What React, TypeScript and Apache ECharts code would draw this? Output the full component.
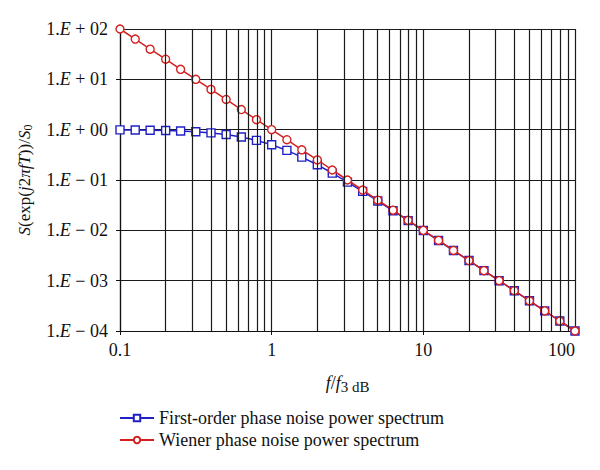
import React, { useEffect, useRef } from "react";
import * as echarts from "echarts";

const freqs = [
  0.1, 0.126, 0.158, 0.2, 0.251, 0.316, 0.398, 0.501, 0.631, 0.794,
  1, 1.26, 1.58, 2.0, 2.51, 3.16, 3.98, 5.01, 6.31, 7.94,
  10, 12.6, 15.8, 20, 25.1, 31.6, 39.8, 50.1, 63.1, 79.4, 100,
];
const firstOrder = [
  0.99, 0.984, 0.975, 0.962, 0.941, 0.909, 0.863, 0.799, 0.715, 0.613,
  0.5, 0.387, 0.285, 0.201, 0.137, 0.0909, 0.0594, 0.0383, 0.0245, 0.0156,
  0.0099, 0.00626, 0.00397, 0.00251, 0.00158, 0.000999, 0.000631, 0.000398, 0.000251, 0.000158, 0.0001,
];
const wiener = [
  100, 63.1, 39.8, 25.1, 15.8, 10, 6.31, 3.98, 2.51, 1.58,
  1, 0.631, 0.398, 0.251, 0.158, 0.1, 0.0631, 0.0398, 0.0251, 0.0158,
  0.01, 0.00631, 0.00398, 0.00251, 0.00158, 0.001, 0.000631, 0.000398, 0.000251, 0.000158, 0.0001,
];
const minorGridX = [
  0.2, 0.3, 0.4, 0.5, 0.6, 0.7, 0.8, 0.9,
  2, 3, 4, 5, 6, 7, 8, 9,
  20, 30, 40, 50, 60, 70, 80, 90,
];
const seriesNames = [
  "First-order phase noise power spectrum",
  "Wiener phase noise power spectrum",
];

const SERIF = "'Liberation Serif', 'DejaVu Serif', serif";
const INK = "#111";

export default function App() {
  const ref = useRef<HTMLDivElement>(null);
  useEffect(() => {
    if (!ref.current) return;
    const chart = echarts.init(ref.current, null, { renderer: "svg" });
    const pairs = (ys: number[]) => freqs.map((f, i) => [f, ys[i]]);
    chart.setOption({
      animation: false,
      backgroundColor: "#ffffff",
      grid: { left: 120, top: 29, right: 25, bottom: 139 },
      legend: {
        orient: "vertical",
        left: 114,
        top: 404,
        itemWidth: 34,
        itemHeight: 8,
        itemGap: 4,
        textStyle: { fontFamily: SERIF, fontSize: 18, color: INK },
        data: seriesNames,
      },
      xAxis: {
        type: "log",
        logBase: 10,
        min: 0.1,
        max: 100,
        name: "{i|f}/{i|f}{sub|3 dB}",
        nameLocation: "middle",
        nameGap: 40,
        nameTextStyle: {
          fontFamily: SERIF,
          fontSize: 18,
          color: INK,
          rich: {
            i: { fontFamily: SERIF, fontSize: 18, fontStyle: "italic", color: INK },
            sub: { fontFamily: SERIF, fontSize: 15, color: INK, padding: [8, 0, 0, 0] },
          },
        },
        axisLine: { show: true, lineStyle: { color: INK, width: 1.2 } },
        axisTick: { show: true, length: 4, lineStyle: { color: INK } },
        axisLabel: {
          fontFamily: SERIF,
          fontSize: 18,
          color: INK,
          margin: 10,
          alignMaxLabel: "right",
          formatter: (v: number) => String(Math.round(v * 10) / 10),
        },
        splitLine: { show: true, lineStyle: { color: "#1a1a1a", width: 1.2 } },
        minorTick: { show: false },
      },
      yAxis: {
        type: "log",
        logBase: 10,
        min: 0.0001,
        max: 100,
        splitNumber: 6,
        name: "{i|S}(exp({i|j}2{i|π}{i|f}{i|T}))/{i|S}{sub|0}",
        nameLocation: "middle",
        nameRotate: 90,
        nameGap: 86,
        nameTextStyle: {
          fontFamily: SERIF,
          fontSize: 17,
          color: INK,
          rich: {
            i: { fontFamily: SERIF, fontSize: 17, fontStyle: "italic", color: INK },
            sub: { fontFamily: SERIF, fontSize: 12, color: INK, padding: [8, 0, 0, 0] },
          },
        },
        axisLine: { show: true, lineStyle: { color: INK, width: 1.2 } },
        axisTick: { show: true, length: 4, lineStyle: { color: INK } },
        axisLabel: {
          fontFamily: SERIF,
          fontSize: 18,
          color: INK,
          margin: 12,
          formatter: (v: number) => {
            const e = Math.round(Math.log10(v));
            const sign = e < 0 ? "−" : "+";
            const d = String(Math.abs(e)).padStart(2, "0");
            return `1.{i|E} ${sign} ${d}`;
          },
          rich: {
            i: { fontFamily: SERIF, fontSize: 18, fontStyle: "italic", color: INK },
          },
        },
        splitLine: { show: true, lineStyle: { color: "#1a1a1a", width: 1.2 } },
      },
      series: [
        {
          name: "grid-minor",
          type: "line",
          data: [],
          silent: true,
          markLine: {
            silent: true,
            symbol: "none",
            label: { show: false },
            lineStyle: { color: "#1a1a1a", width: 1.2, type: "solid" },
            data: minorGridX.map((x) => ({ xAxis: x })),
          },
        },
        {
          name: seriesNames[0],
          type: "line",
          data: pairs(firstOrder),
          symbol: "rect",
          symbolSize: 8,
          showAllSymbol: true,
          color: "#2020c8",
          lineStyle: { color: "#2020c8", width: 1.5 },
          itemStyle: { color: "#ffffff", borderColor: "#2020c8", borderWidth: 1.4 },
          z: 3,
        },
        {
          name: seriesNames[1],
          type: "line",
          data: pairs(wiener),
          symbol: "circle",
          symbolSize: 8,
          showAllSymbol: true,
          color: "#d42020",
          lineStyle: { color: "#d42020", width: 1.5 },
          itemStyle: { color: "#ffffff", borderColor: "#d42020", borderWidth: 1.4 },
          z: 4,
        },
      ],
    });
    return () => chart.dispose();
  }, []);
  return <div ref={ref} style={{ width: 600, height: 470, position: "absolute", left: 0, top: 0 }} />;
}
